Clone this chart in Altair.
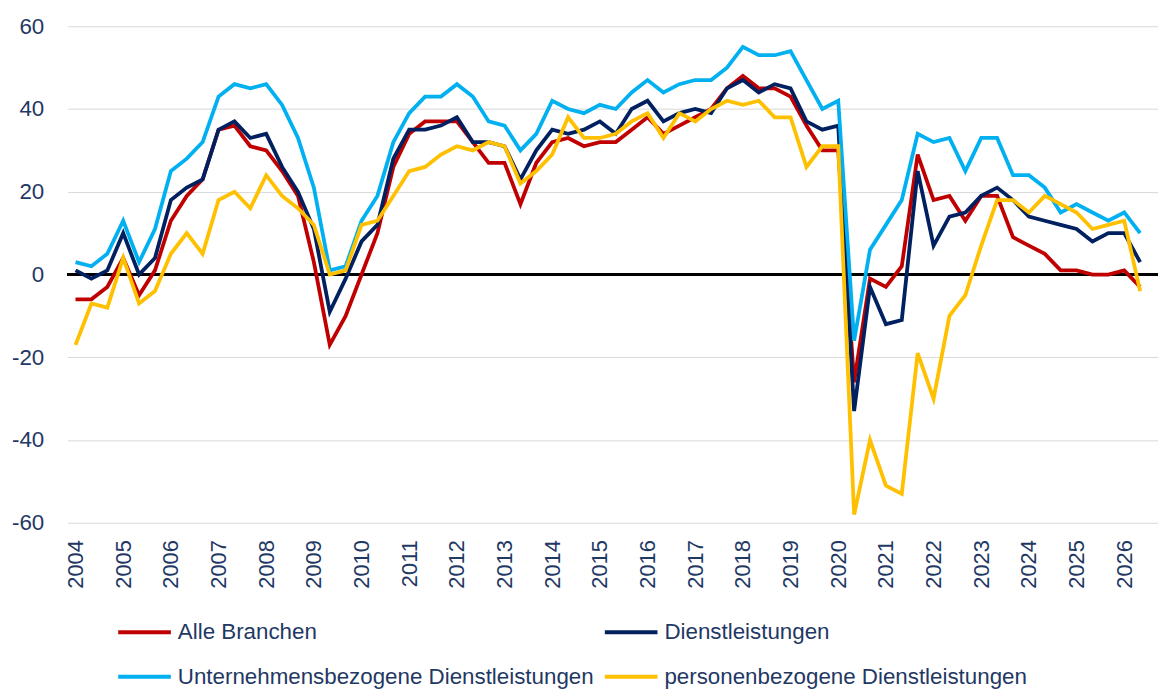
import altair as alt
import pandas as pd

# ---- data -------------------------------------------------------------
year_labels = ["2004", "2005", "2006", "2007", "2008", "2009", "2010", "2011",
               "2012", "2013", "2014", "2015", "2016", "2017", "2018", "2019",
               "2020", "2021", "2022", "2023", "2024", "2025", "2026"]

series_names = ["Alle Branchen", "Dienstleistungen",
                "Unternehmensbezogene Dienstleistungen",
                "personenbezogene Dienstleistungen"]
series_colors = ["#c00000", "#002060", "#00b0f0", "#ffc000"]

alle_branchen = [-6, -6, -3, 4, -5, 1, 13, 19, 23, 35,
                 36, 31, 30, 25, 19, 3, -17, -10, 0, 10,
                 26, 34, 37, 37, 37, 32, 27, 27, 17, 27,
                 32, 33, 31, 32, 32, 35, 38, 34, 36, 38,
                 40, 45, 48, 45, 45, 43, 36, 30, 30, -26,
                 -1, -3, 2, 29, 18, 19, 13, 19, 19, 9,
                 7, 5, 1, 1, 0, 0, 1, -3]

dienstleistungen = [1, -1, 1, 10, 0, 4, 18, 21, 23, 35,
                    37, 33, 34, 26, 20, 11, -9, -1, 8, 12,
                    28, 35, 35, 36, 38, 32, 32, 31, 23, 30,
                    35, 34, 35, 37, 34, 40, 42, 37, 39, 40,
                    39, 45, 47, 44, 46, 45, 37, 35, 36, -33,
                    -3, -12, -11, 25, 7, 14, 15, 19, 21, 18,
                    14, 13, 12, 11, 8, 10, 10, 3]

unternehmensbezogene = [3, 2, 5, 13, 3, 11, 25, 28, 32, 43,
                        46, 45, 46, 41, 33, 21, 1, 2, 13, 19,
                        32, 39, 43, 43, 46, 43, 37, 36, 30, 34,
                        42, 40, 39, 41, 40, 44, 47, 44, 46, 47,
                        47, 50, 55, 53, 53, 54, 47, 40, 42, -16,
                        6, 12, 18, 34, 32, 33, 25, 33, 33, 24,
                        24, 21, 15, 17, 15, 13, 15, 10]

personenbezogene = [-17, -7, -8, 4, -7, -4, 5, 10, 5, 18,
                    20, 16, 24, 19, 16, 12, 0, 1, 12, 13,
                    19, 25, 26, 29, 31, 30, 32, 31, 22, 25,
                    29, 38, 33, 33, 34, 37, 39, 33, 39, 37,
                    40, 42, 41, 42, 38, 38, 26, 31, 31, -58,
                    -40, -51, -53, -19, -30, -10, -5, 7, 18, 18,
                    15, 19, 17, 15, 11, 12, 13, -4]

y_ticks = [-60, -40, -20, 0, 20, 40, 60]

# ---- table ------------------------------------------------------------
rows = []
for name, vals in zip(series_names,
                      [alle_branchen, dienstleistungen,
                       unternehmensbezogene, personenbezogene]):
    for i, v in enumerate(vals):
        rows.append({"t": i, "value": v, "series": name})
df = pd.DataFrame(rows)

FONT = "Liberation Sans"
TEXT = "#1f3864"

x_values = [3 * k for k in range(len(year_labels))]
label_expr = "[" + ",".join("'%s'" % y for y in year_labels) + "][round(datum.value/3)]"

x_enc = alt.X(
    "t:Q",
    scale=alt.Scale(domain=[-0.5, 68.125], nice=False, zero=False),
    axis=alt.Axis(values=x_values, labelExpr=label_expr, labelAngle=270,
                  labelAlign="right", labelBaseline="middle", labelPadding=17,
                  labelFlush=False, labelOverlap=False,
                  ticks=False, domain=False, grid=False, title=None,
                  labelFontSize=22, labelColor=TEXT, labelFont=FONT),
)

y_enc = alt.Y(
    "value:Q",
    scale=alt.Scale(domain=[-60, 60], nice=False, zero=False),
    axis=alt.Axis(values=y_ticks, labelExpr="toString(datum.value)",
                  grid=True, gridColor="#d9d9d9", gridWidth=1,
                  ticks=False, domain=False, labelPadding=24, title=None,
                  labelFontSize=22.5, labelColor=TEXT, labelFont=FONT,
                  labelFlush=False),
)

zero_line = alt.Chart(df).mark_rule(color="black", strokeWidth=2).encode(
    y=alt.datum(0)
)

lines = alt.Chart(df).mark_line(strokeWidth=3.8).encode(
    x=x_enc,
    y=y_enc,
    color=alt.Color(
        "series:N",
        scale=alt.Scale(domain=series_names, range=series_colors),
        sort=series_names,
        legend=alt.Legend(
            orient="none", legendX=49, legendY=599, columns=2,
            direction="horizontal",
            symbolType="stroke", symbolSize=2809, symbolStrokeWidth=4,
            clipHeight=22, labelFontSize=22.5, labelFont=FONT,
            labelColor=TEXT, labelLimit=800, labelOffset=5,
            columnPadding=8, rowPadding=22, title=None, padding=0,
        ),
    ),
    order=alt.Order("t:Q"),
)

chart = alt.layer(zero_line, lines).properties(
    width=1098,
    height=500,
    autosize=alt.AutoSizeParams(type="none"),
    padding={"left": 60, "top": 16, "right": 0, "bottom": 167},
    background="white",
).configure_view(strokeWidth=0)

chart.save("out.html", embed_options={"renderer": "svg", "actions": False})
